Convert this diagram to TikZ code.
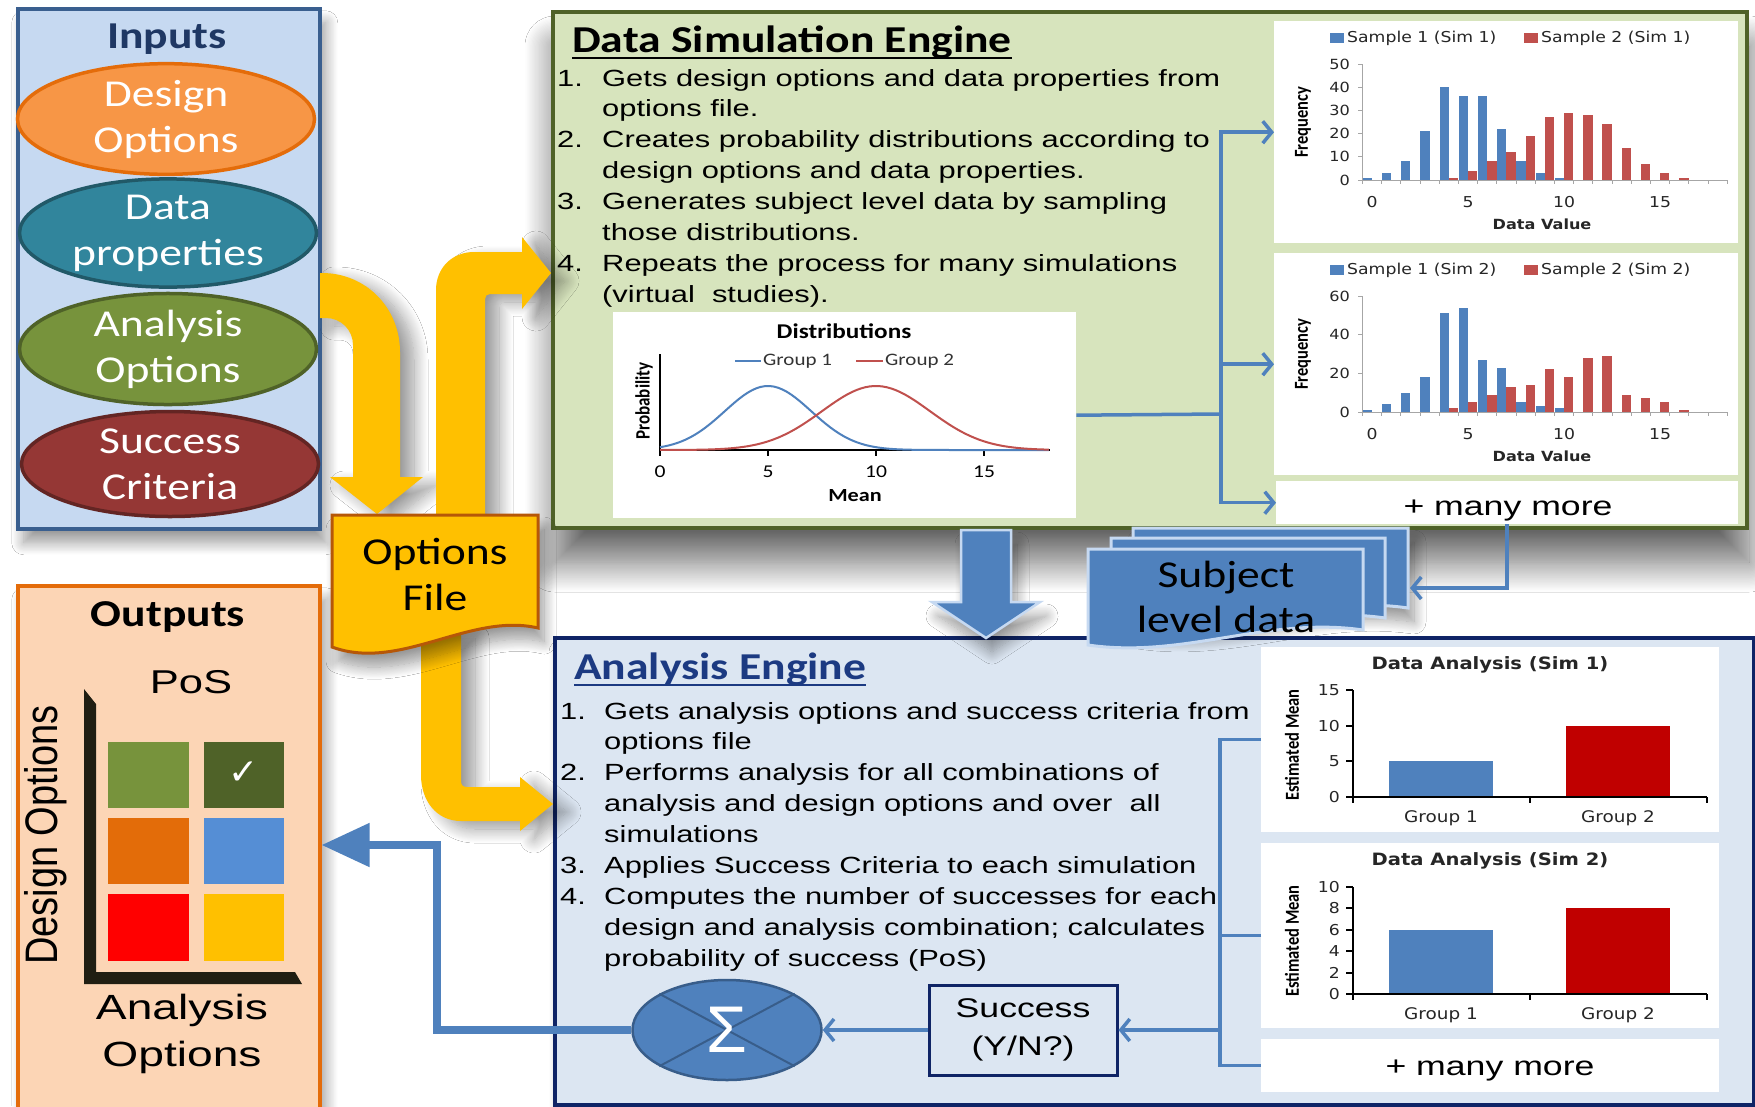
\documentclass[tikz,border=0pt]{standalone}
\usepackage{fontspec}
\usetikzlibrary{arrows.meta,shapes.geometric,shadows.blur}
\setmainfont{Liberation Sans}
\newfontfamily\fcal[FakeStretch=1.2]{Carlito}
\newfontfamily\fcaln{Carlito}
\newfontfamily\fari[FakeStretch=1.32]{Liberation Sans}
\newfontfamily\farin{Liberation Sans}
\newfontfamily\fver[FakeStretch=1.15]{DejaVu Sans}
\newfontfamily\fsym{DejaVu Sans}
\newcommand\fsz[2]{\fontsize{#1pt}{#2pt}\selectfont}

\definecolor{inbg}{HTML}{C6D9F1}
\definecolor{inbd}{HTML}{3A5F8F}
\definecolor{navy}{HTML}{1F3864}
\definecolor{orfill}{HTML}{F79646}
\definecolor{orbd}{HTML}{E46C0A}
\definecolor{tealf}{HTML}{31859C}
\definecolor{tealbd}{HTML}{215968}
\definecolor{grnf}{HTML}{77933C}
\definecolor{grnbd}{HTML}{4F6228}
\definecolor{redf}{HTML}{953735}
\definecolor{redbd}{HTML}{632523}
\definecolor{dsebg}{HTML}{D7E4BD}
\definecolor{dsebd}{HTML}{4F6228}
\definecolor{yel}{HTML}{FFC000}
\definecolor{yelbd}{HTML}{B65708}
\definecolor{blu}{HTML}{4F81BD}
\definecolor{bludk}{HTML}{385D8A}
\definecolor{blult}{HTML}{C6D9F1}
\definecolor{aebg}{HTML}{DCE6F2}
\definecolor{aebd}{HTML}{0F2466}
\definecolor{aetitle}{HTML}{1C3A82}
\definecolor{outbg}{HTML}{FCD5B5}
\definecolor{outbd}{HTML}{E46C0A}
\definecolor{chred}{HTML}{C0504D}
\definecolor{barred}{HTML}{C00000}
\definecolor{axgray}{HTML}{A6A6A6}
\definecolor{laxis}{HTML}{201E12}
\definecolor{sqA}{HTML}{77933C}
\definecolor{sqB}{HTML}{4F6228}
\definecolor{sqC}{HTML}{E36C09}
\definecolor{sqD}{HTML}{558ED5}
\definecolor{sqE}{HTML}{FF0000}
\definecolor{sqF}{HTML}{FFC000}

\begin{document}
\begin{tikzpicture}[x=1pt,y=-1pt,
  shad/.style={blur shadow={shadow xshift=6pt,shadow yshift=-14pt,shadow blur radius=12pt,shadow blur steps=16,shadow opacity=40}},
  ashad/.style={blur shadow={shadow xshift=14pt,shadow yshift=-8pt,shadow blur radius=14pt,shadow blur steps=16,shadow opacity=40}},
  panel/.style={rectangle,inner sep=0pt,line width=3.5pt,anchor=north west},
  chartbox/.style={rectangle,fill=white,inner sep=0pt,anchor=north west},
  inoval/.style={ellipse,line width=3.5pt,inner sep=0pt,minimum width=297pt,minimum height=105pt,
    text=white,align=center,font=\fcal\fsz{38}{46}},
  lst/.style={anchor=base west,inner sep=0pt,font=\fari\fsz{23.4}{23.4}},
  conn/.style={draw=blu,line width=3.5pt,-{Straight Barb[length=9pt,width=22pt]}},
  wire/.style={draw=blu,line width=3.5pt},
  chtxt/.style={inner sep=0pt,font=\fver\fsz{15}{15},text=black!85},
  ylab/.style={inner sep=0pt,anchor=east,font=\fver\fsz{14}{14},text=black!85},
  rotlab/.style={inner sep=0pt,rotate=90,font=\fcaln\bfseries\fsz{16.5}{16.5}},
  bigtxt/.style={inner sep=0pt,font=\fari\fsz{27}{27}}
]
\fill[white] (0,0) rectangle (1755,1106);
\useasboundingbox (0,0) rectangle (1755,1106);

% ---------------- panels ----------------
\node[panel,draw=inbd,fill=inbg,minimum width=302pt,minimum height=520pt,shad] (inbox) at (16,7) {};
\node[panel,draw=outbd,fill=outbg,minimum width=302pt,minimum height=540pt,shad] (outb) at (16,584) {};
\node[panel,draw=dsebd,fill=dsebg,line width=4pt,minimum width=1194pt,minimum height=516pt,
  blur shadow={shadow xshift=2pt,shadow yshift=-34pt,shadow blur radius=30pt,shadow blur steps=24,shadow opacity=60}] (dse) at (551,10) {};
\node[panel,draw=aebd,fill=aebg,line width=4pt,minimum width=1199pt,minimum height=467pt,shad] (ae) at (553,636) {};

% ---------------- inputs ----------------
\node[inner sep=0pt,font=\fcal\bfseries\fsz{38}{38},text=navy] (inttl) at (167,39) {Inputs};
\node[inoval,draw=orbd,fill=orfill] (eDes) at (166,119) {Design\\Options};
\node[inoval,draw=tealbd,fill=tealf] (eDat) at (168,233) {Data\\properties};
\node[inoval,draw=grnbd,fill=grnf] (eAna) at (168,349) {Analysis\\Options};
\node[inoval,draw=redbd,fill=redf] (eSuc) at (170,464) {Success\\Criteria};

% ---------------- yellow flow arrows ----------------
\fill[yel,ashad] (320,273) -- (322,273) .. controls (366,273) and (400,308) .. (400,352)
  -- (400,477) -- (423,477) -- (377,514) -- (330,477) -- (353,477) -- (353,345)
  .. controls (353,330) and (341,318) .. (326,318) -- (320,318) -- cycle;
\fill[yel,ashad] (436,530) -- (436,290) .. controls (436,268) and (452,252) .. (474,252)
  -- (522,252) -- (522,237) -- (551,273) -- (522,309) -- (522,294) -- (490,294)
  .. controls (487,294) and (485,296) .. (485,299) -- (485,530) -- cycle;
\fill[yel,ashad] (421,630) -- (421,775) .. controls (421,800) and (436,821) .. (461,821)
  -- (520,821) -- (520,831) -- (553,804) -- (520,777) -- (520,787) -- (467,787)
  .. controls (463,787) and (461,785) .. (461,781) -- (461,630) -- cycle;

% options file document
\draw[fill=yel,draw=yelbd,line width=3pt,shad] (332,515) -- (538,515) -- (538,628)
  .. controls (470,612) and (400,672) .. (332,647) -- cycle;
\node[inner sep=0pt,align=center,font=\fcal\fsz{38}{46}] (optf) at (435,574) {Options\\File};

% ---------------- data simulation engine ----------------
\node[anchor=base west,inner sep=0pt,font=\fcal\bfseries\fsz{38}{38}] (dsettl) at (572,52) {Data Simulation Engine};
\draw[line width=2.5pt] ([yshift=-6pt]dsettl.base west) -- ([yshift=-6pt]dsettl.base east);
\foreach \y/\n [count=\i] in {86/1.,147.8/2.,209.6/3.,271.4/4.}
  \node[lst] (dn\i) at (557,\y) {\n};
\foreach \y/\t [count=\i] in {
  86/{Gets design options and data properties from},
  116.9/{options file.},
  147.8/{Creates probability distributions according to},
  178.7/{design options and data properties.},
  209.6/{Generates subject level data by sampling},
  240.5/{those distributions.},
  271.4/{Repeats the process for many simulations},
  302.3/{(virtual\ \ studies).}}
  \node[lst] (dl\i) at (602,\y) {\t};

% distributions chart
\node[chartbox,minimum width=463pt,minimum height=206pt] (dist) at (613,312) {};
\node[inner sep=0pt,font=\fcal\bfseries\fsz{21}{21}] (distt) at (844,331) {Distributions};
\draw[blu,line width=2pt] (735,361) -- (761,361);
\node[inner sep=0pt,anchor=west,font=\fcal\fsz{17.5}{17.5},text=black!80] (lg1) at (763,361) {Group 1};
\draw[chred,line width=2pt] (856,361) -- (883,361);
\node[inner sep=0pt,anchor=west,font=\fcal\fsz{17.5}{17.5},text=black!80] (lg2) at (885,361) {Group 2};
\draw[black,line width=1.5pt] (660,354) -- (660,450) -- (1050,450);
\foreach \v [count=\i] in {0,5,10,15} {
  \draw[black,line width=1.5pt] ({660+21.6*\v},450) -- ({660+21.6*\v},456);
  \node[inner sep=0pt,font=\fcal\fsz{18}{18}] (dx\i) at ({660+21.6*\v},472) {\v};
}
\draw[blu,line width=2pt] plot[domain=0:18,samples=90] ({660+21.6*\x},{450-64*exp(-(\x-5)^2/8)});
\draw[chred,line width=2pt] plot[domain=0:18,samples=90] ({660+21.6*\x},{450-64*exp(-(\x-10)^2/12.5)});
\node[inner sep=0pt,font=\fcal\bfseries\fsz{18.5}{18.5}] (distx) at (855,496) {Mean};
\node[inner sep=0pt,rotate=90,font=\fcaln\bfseries\fsz{17}{17}] (disty) at (644,401) {\scalebox{1}[1.2]{Probability}};

% histograms
\node[chartbox,minimum width=464pt,minimum height=222pt] (h1) at (1274,21) {};
\node[chartbox,minimum width=464pt,minimum height=222pt] (h2) at (1274,253) {};
\node[chartbox,minimum width=462pt,minimum height=43pt] (mm1) at (1276,481) {};
\node[bigtxt] (mm1t) at (1508,511) {+ many more};

% histogram 1
\fill[blu] (1330,33) rectangle (1344,43);
\node[chtxt,anchor=west] (h1l1) at (1347,38) {Sample 1 (Sim 1)};
\fill[chred] (1524,33) rectangle (1538,43);
\node[chtxt,anchor=west] (h1l2) at (1541,38) {Sample 2 (Sim 1)};
\foreach \v [count=\k from 0] in {1,3,8,21,40,36,36,22,8,3,1}
  \fill[blu] ({1372+19.2*\k-9.3},180) rectangle ({1372+19.2*\k},{180-2.32*\v});
\foreach \v [count=\k from 4] in {1,4,8,12,19,27,29,28,24,14,7,3,1}
  \fill[chred] ({1372+19.2*\k},180) rectangle ({1372+19.2*\k+9.3},{180-2.32*\v});
\draw[axgray,line width=1pt] (1362,64) -- (1362,180) -- (1727,180);
\foreach \k in {0,...,19} \draw[axgray,line width=1pt] ({1362.4+19.2*\k},180) -- ({1362.4+19.2*\k},184);
\foreach \v [count=\i] in {0,10,20,30,40,50} {
  \draw[axgray,line width=1pt] (1358,{180-2.32*\v}) -- (1362,{180-2.32*\v});
  \node[ylab] (h1y\i) at (1350,{180-2.32*\v}) {\v};
}
\foreach \v [count=\i] in {0,5,10,15}
  \node[chtxt] (h1x\i) at ({1372+19.2*\v},202) {\v};
\node[chtxt,font=\fver\bfseries\fsz{14}{14}] (h1xt) at (1542,224) {Data Value};
\node[rotlab] (h1yt) at (1303,122) {\scalebox{1}[1.2]{Frequency}};

% histogram 2
\fill[blu] (1330,265) rectangle (1344,275);
\node[chtxt,anchor=west] (h2l1) at (1347,270) {Sample 1 (Sim 2)};
\fill[chred] (1524,265) rectangle (1538,275);
\node[chtxt,anchor=west] (h2l2) at (1541,270) {Sample 2 (Sim 2)};
\foreach \v [count=\k from 0] in {1,4,10,18,51,54,27,23,5,3,2}
  \fill[blu] ({1372+19.2*\k-9.3},412) rectangle ({1372+19.2*\k},{412-1.933*\v});
\foreach \v [count=\k from 4] in {2,5,9,13,14,22,18,28,29,9,7,5,1}
  \fill[chred] ({1372+19.2*\k},412) rectangle ({1372+19.2*\k+9.3},{412-1.933*\v});
\draw[axgray,line width=1pt] (1362,296) -- (1362,412) -- (1727,412);
\foreach \k in {0,...,19} \draw[axgray,line width=1pt] ({1362.4+19.2*\k},412) -- ({1362.4+19.2*\k},416);
\foreach \v [count=\i] in {0,20,40,60} {
  \draw[axgray,line width=1pt] (1358,{412-1.933*\v}) -- (1362,{412-1.933*\v});
  \node[ylab] (h2y\i) at (1350,{412-1.933*\v}) {\v};
}
\foreach \v [count=\i] in {0,5,10,15}
  \node[chtxt] (h2x\i) at ({1372+19.2*\v},434) {\v};
\node[chtxt,font=\fver\bfseries\fsz{14}{14}] (h2xt) at (1542,456) {Data Value};
\node[rotlab] (h2yt) at (1303,354) {\scalebox{1}[1.2]{Frequency}};

% simulation connectors
\coordinate (dtr) at (1221,414);
\draw[wire] (dist.east) -- (dtr);
\draw[conn] (dtr) |- (h1.west);
\draw[conn] (dtr) |- (h2.west);
\draw[conn] (dtr) |- (mm1.west);

% ---------------- analysis engine ----------------
\node[anchor=base west,inner sep=0pt,font=\fcal\bfseries\fsz{38}{38},text=aetitle] (aettl) at (574,679) {Analysis Engine};
\draw[aetitle,line width=2.5pt] ([yshift=-6pt]aettl.base west) -- ([yshift=-6pt]aettl.base east);
\foreach \y/\n [count=\i] in {719/1.,780.8/2.,873.5/3.,904.4/4.}
  \node[lst] (an\i) at (560,\y) {\n};
\foreach \y/\t [count=\i] in {
  719/{Gets analysis options and success criteria from},
  749.9/{options file},
  780.8/{Performs analysis for all combinations of},
  811.7/{analysis and design options and over\ \ all},
  842.6/{simulations},
  873.5/{Applies Success Criteria to each simulation},
  904.4/{Computes the number of successes for each},
  935.3/{design and analysis combination; calculates},
  966.2/{probability of success (PoS)}}
  \node[lst] (al\i) at (604,\y) {\t};

% analysis charts
\node[chartbox,minimum width=458pt,minimum height=185pt] (a1) at (1261,647) {};
\node[chartbox,minimum width=458pt,minimum height=185pt] (a2) at (1261,843) {};
\node[chartbox,minimum width=458pt,minimum height=53pt] (mm2) at (1261,1039) {};
\node[bigtxt] (mm2t) at (1490,1070) {+ many more};

% chart sim 1
\node[chtxt,font=\fver\bfseries\fsz{17}{17}] (a1t) at (1490,665) {Data Analysis (Sim 1)};
\fill[blu] (1389,797) rectangle (1493,{797-7.133*5});
\fill[barred] (1566,797) rectangle (1670,{797-7.133*10});
\draw[black,line width=2pt] (1353,690) -- (1353,797);
\draw[black,line width=2pt] (1346,797) -- (1707,797);
\foreach \x in {1353,1530,1707} \draw[black,line width=2pt] (\x,797) -- (\x,803);
\foreach \v [count=\i] in {0,5,10,15} {
  \draw[black,line width=2pt] (1346,{797-7.133*\v}) -- (1353,{797-7.133*\v});
  \node[ylab,font=\fver\fsz{15}{15}] (a1y\i) at (1340,{797-7.133*\v}) {\v};
}
\node[chtxt,font=\fver\fsz{16}{16}] (a1g1) at (1441,818) {Group 1};
\node[chtxt,font=\fver\fsz{16}{16}] (a1g2) at (1618,818) {Group 2};
\node[rotlab] (a1yt) at (1292,745) {\scalebox{1}[1.2]{Estimated Mean}};

% chart sim 2
\node[chtxt,font=\fver\bfseries\fsz{17}{17}] (a2t) at (1490,861) {Data Analysis (Sim 2)};
\fill[blu] (1389,994) rectangle (1493,{994-10.7*6});
\fill[barred] (1566,994) rectangle (1670,{994-10.7*8});
\draw[black,line width=2pt] (1353,887) -- (1353,994);
\draw[black,line width=2pt] (1346,994) -- (1707,994);
\foreach \x in {1353,1530,1707} \draw[black,line width=2pt] (\x,994) -- (\x,1000);
\foreach \v [count=\i] in {0,2,4,6,8,10} {
  \draw[black,line width=2pt] (1346,{994-10.7*\v}) -- (1353,{994-10.7*\v});
  \node[ylab,font=\fver\fsz{15}{15}] (a2y\i) at (1340,{994-10.7*\v}) {\v};
}
\node[chtxt,font=\fver\fsz{16}{16}] (a2g1) at (1441,1015) {Group 1};
\node[chtxt,font=\fver\fsz{16}{16}] (a2g2) at (1618,1015) {Group 2};
\node[rotlab] (a2yt) at (1292,941) {\scalebox{1}[1.2]{Estimated Mean}};

% success test and summation
\node[rectangle,draw=aebd,fill=aebg,line width=3pt,minimum width=188pt,minimum height=90pt,
  inner sep=0pt,align=center,font=\fari\fsz{27}{38}] (succ) at (1023,1030) {Success\\(Y/N?)};
\node[ellipse,draw=bludk,fill=blu,line width=2.5pt,minimum width=189pt,minimum height=100pt,inner sep=0pt] (sig) at (727,1030) {};
\draw[bludk,line width=2pt] (sig.north west) -- (sig.south east);
\draw[bludk,line width=2pt] (sig.north east) -- (sig.south west);
\node[inner sep=0pt,text=white,font=\farin\fsz{66}{66}] (sigt) at (727,1030) {Σ};

% analysis connectors
\coordinate (atr) at (1220,1030);
\draw[wire] (a1.west) -| (atr) |- (mm2.west);
\draw[wire] (a2.west) -- (a2.west -| atr);
\draw[conn] (atr) -- (succ.east);
\draw[conn] (succ.west) -- (sig.east);

% ---------------- between the engines ----------------
\draw[fill=blu,draw=blult,line width=2.5pt,shad] (961,530) -- (1011,530) -- (1011,602) -- (1040,602)
  -- (986,638) -- (932,602) -- (961,602) -- cycle;
\draw[fill=blu,draw=blult,line width=3pt,shad] (1133,528) -- (1408,528) -- (1408,608)
  .. controls (1312,594) and (1229,637) .. (1133,623) -- cycle;
\draw[fill=blu,draw=blult,line width=3pt] (1111,538) -- (1385,538) -- (1385,618)
  .. controls (1289,604) and (1207,647) .. (1111,633) -- cycle;
\draw[fill=blu,draw=blult,line width=3pt] (1088,549) -- (1363,549) -- (1363,630)
  .. controls (1267,616) and (1184,659) .. (1088,645) -- cycle;
\node[inner sep=0pt,align=center,font=\fcal\fsz{38}{45}] (sld) at (1226,597) {Subject\\level data};
\coordinate (sldin) at (1410,588);
\draw[conn] (mm1.south) |- (sldin);

% ---------------- outputs ----------------
\node[inner sep=0pt,font=\fcal\bfseries\fsz{38}{38}] (outttl) at (168,617) {Outputs};
\node[inner sep=0pt,font=\fari\fsz{33}{33}] (pos) at (191,682) {PoS};
\fill[laxis] (84,689) -- (96,704) -- (96,972) -- (295,972) -- (302,984) -- (84,984) -- cycle;
\fill[sqA] (108,742) rectangle (189,808);
\fill[sqB] (204,742) rectangle (284,808);
\fill[sqC] (108,818) rectangle (189,884);
\fill[sqD] (204,818) rectangle (284,884);
\fill[sqE] (108,894) rectangle (189,961);
\fill[sqF] (204,894) rectangle (284,961);
\node[inner sep=0pt,text=white,font=\fsym\bfseries\fsz{36}{36}] (chk) at (244,773) {✓};
\node[inner sep=0pt,rotate=90,font=\farin\fsz{38}{38}] (dopt) at (46,835) {\scalebox{1}[1.2]{Design Options}};
\node[inner sep=0pt,align=center,font=\fari\fsz{35}{47}] (aopt) at (182,1034) {Analysis\\Options};

% result feedback to outputs
\coordinate (retc) at (437,845);
\draw[blu,line width=8pt,-{Triangle[length=48pt,width=42pt]}] (sig.west) -| (retc) -- (retc -| outb.east);
\end{tikzpicture}
\end{document}
